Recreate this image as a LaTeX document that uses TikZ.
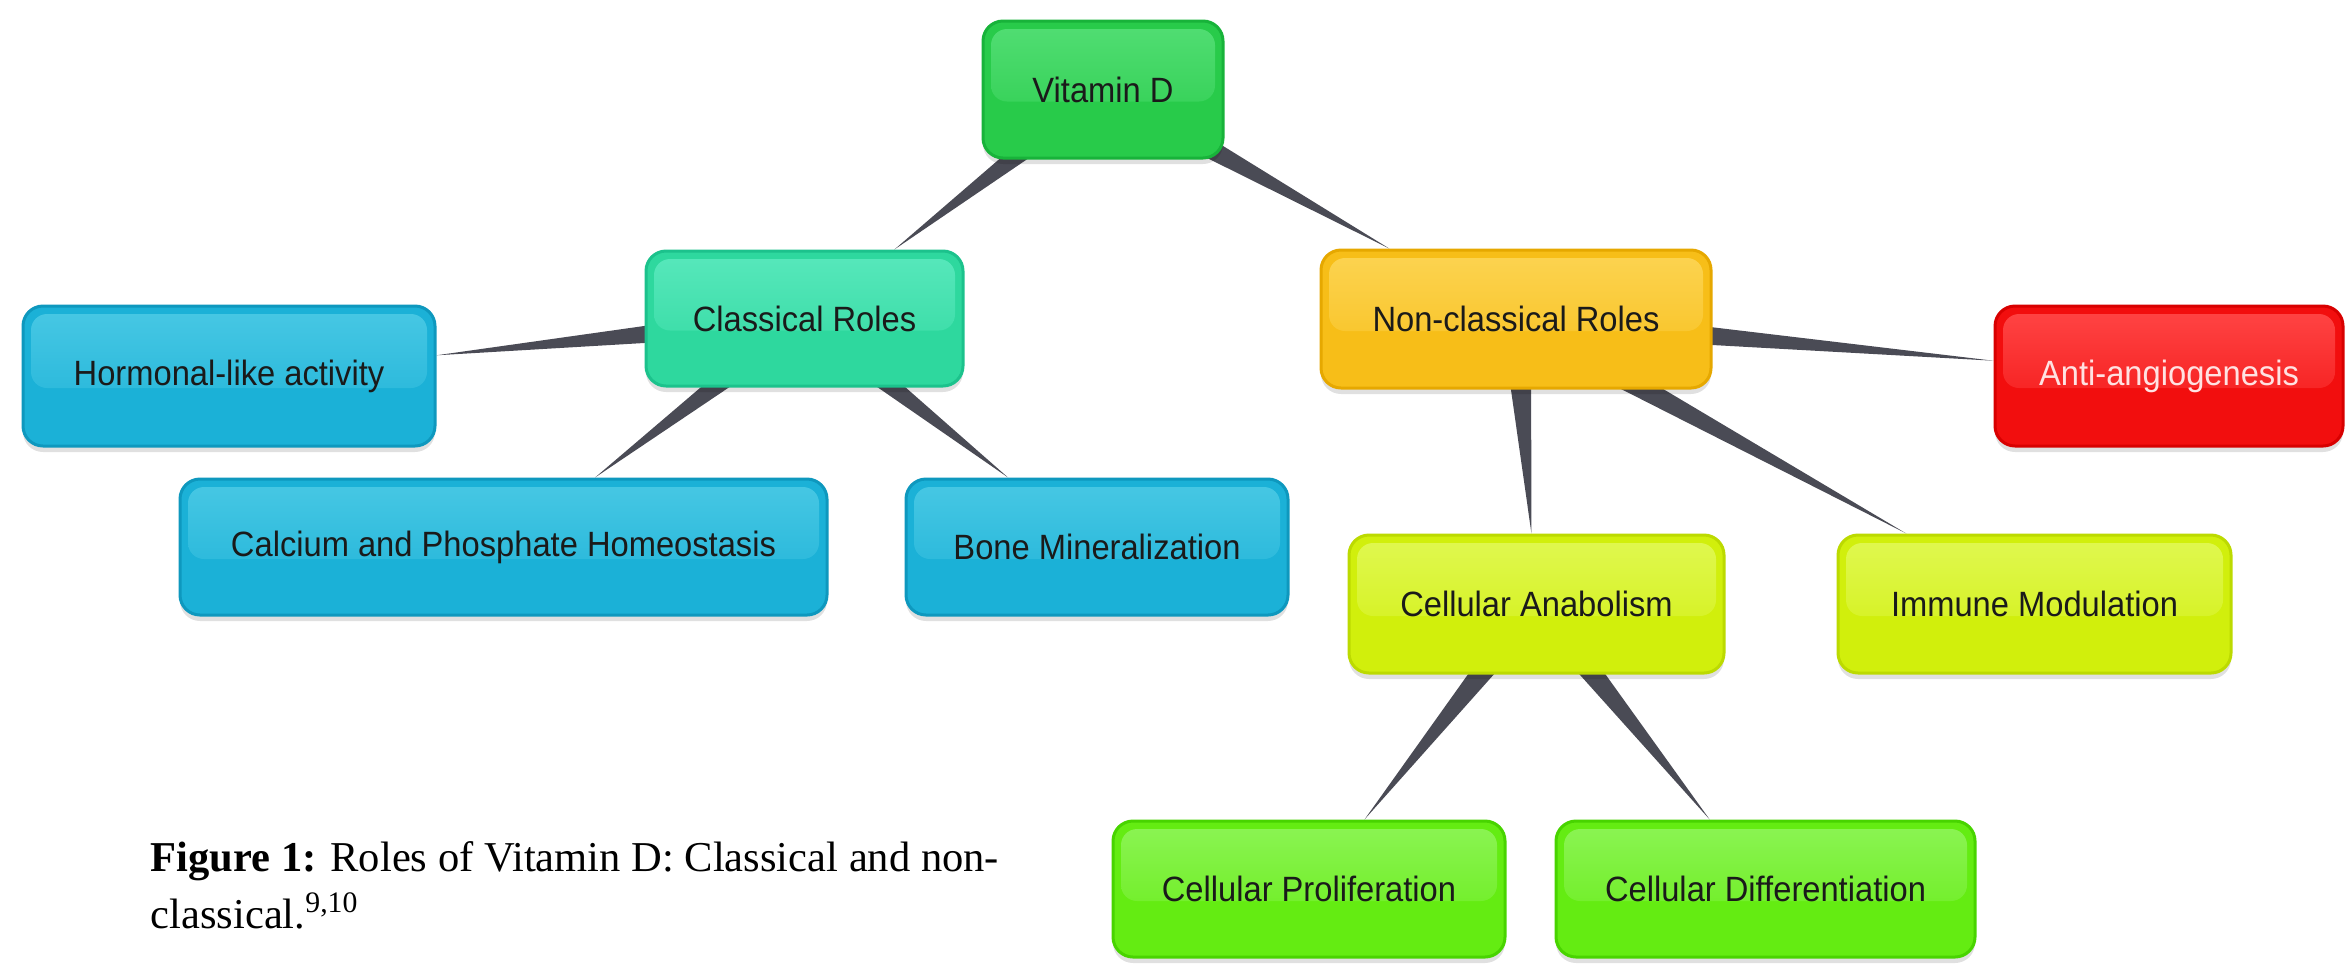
\documentclass[tikz,border=0pt]{standalone}
\usepackage{fontspec}
\setmainfont{Liberation Serif}
\newfontfamily\boxfont[FakeStretch=0.93]{Liberation Sans}
\usetikzlibrary{calc,shadows}
\pgfdeclarelayer{bg}
\pgfsetlayers{bg,main}

\definecolor{conncol}{HTML}{4A4B55}
\definecolor{vitD}{HTML}{18B33A}\definecolor{vitB}{HTML}{28CB4A}\definecolor{vitL}{HTML}{52DE74}
\definecolor{clsD}{HTML}{1CC28C}\definecolor{clsB}{HTML}{2ED89E}\definecolor{clsL}{HTML}{58E8BC}
\definecolor{bluD}{HTML}{0E98BE}\definecolor{bluB}{HTML}{1BB1D7}\definecolor{bluL}{HTML}{48C8E4}
\definecolor{nonD}{HTML}{E6A800}\definecolor{nonB}{HTML}{F7BE18}\definecolor{nonL}{HTML}{FCD452}
\definecolor{antD}{HTML}{D80000}\definecolor{antB}{HTML}{F20E0E}\definecolor{antL}{HTML}{FF4646}
\definecolor{ylwD}{HTML}{BCDA00}\definecolor{ylwB}{HTML}{D1EF0C}\definecolor{ylwL}{HTML}{E0F852}
\definecolor{grnD}{HTML}{48D400}\definecolor{grnB}{HTML}{64EC12}\definecolor{grnL}{HTML}{8CF455}
\definecolor{boxtext}{HTML}{1A1A1A}
\definecolor{anttext}{HTML}{FFE2E2}

\tikzset{
  conn/.style={fill=conncol},
  gbox/.style n args={3}{draw=#1, fill=#2, line width=0.3mm, rounded corners=2mm,
    font=\boxfont\fontsize{10}{12}\selectfont, text=boxtext, inner sep=0pt,
    drop shadow={shadow xshift=0mm, shadow yshift=-0.6mm, opacity=0.12, fill=black},
    path picture={\fill[top color=#3, bottom color=#2, rounded corners=1.6mm]
      ([shift={(0.8mm,-0.8mm)}]path picture bounding box.north west) rectangle
      ([shift={(-0.8mm,-1.2mm)}]path picture bounding box.east);}},
  capfont/.style={font=\fontsize{12.1}{15}\selectfont, inner sep=0pt, anchor=base west},
}

\newcommand\wedgeconn[2]{%
  \path (#1) -- coordinate[pos=1] (tip) (#2);
  \fill[conn] ($(#1.center)!1.5mm!90:(#2.center)$) -- ($(#1.center)!1.5mm!-90:(#2.center)$) -- (tip) -- cycle;
}

\begin{document}
\begin{tikzpicture}[x=0.1mm, y=-0.1mm]
\useasboundingbox (0,0) rectangle (2345,971);

\node[gbox={vitD}{vitB}{vitL}, minimum width=24mm, minimum height=13.7mm] (vit) at (1103,89.5) {Vitamin D};
\node[gbox={clsD}{clsB}{clsL}, minimum width=31.7mm, minimum height=13.5mm] (cls) at (804.5,318.5) {Classical Roles};
\node[gbox={bluD}{bluB}{bluL}, minimum width=41.2mm, minimum height=14mm] (hor) at (229,376) {Hormonal-like activity};
\node[gbox={bluD}{bluB}{bluL}, minimum width=64.7mm, minimum height=13.6mm] (cal) at (503.5,547) {Calcium and Phosphate Homeostasis};
\node[gbox={bluD}{bluB}{bluL}, minimum width=38.2mm, minimum height=13.6mm] (bone) at (1097,547) {Bone Mineralization};
\node[gbox={nonD}{nonB}{nonL}, minimum width=39mm, minimum height=13.8mm] (non) at (1516,319) {Non-classical Roles};
\node[gbox={antD}{antB}{antL}, text=anttext, minimum width=34.8mm, minimum height=14mm] (anti) at (2169,376) {Anti-angiogenesis};
\node[gbox={ylwD}{ylwB}{ylwL}, minimum width=37.5mm, minimum height=13.8mm] (ana) at (1536.5,604) {Cellular Anabolism};
\node[gbox={ylwD}{ylwB}{ylwL}, minimum width=39.3mm, minimum height=13.8mm] (imm) at (2034.5,604) {Immune Modulation};
\node[gbox={grnD}{grnB}{grnL}, minimum width=39.2mm, minimum height=13.6mm] (pro) at (1309,889) {Cellular Proliferation};
\node[gbox={grnD}{grnB}{grnL}, minimum width=41.9mm, minimum height=13.6mm] (dif) at (1765.5,889) {Cellular Differentiation};

\begin{pgfonlayer}{bg}
\fill[white] (0,0) rectangle (2345,971);
\wedgeconn{vit}{cls}
\wedgeconn{vit}{non}
\wedgeconn{cls}{hor}
\wedgeconn{cls}{cal}
\wedgeconn{cls}{bone}
\wedgeconn{non}{anti}
\wedgeconn{non}{ana}
\wedgeconn{non}{imm}
\wedgeconn{ana}{pro}
\wedgeconn{ana}{dif}
\end{pgfonlayer}

\node[capfont] (cap1) at (150,871) {\textbf{Figure 1:} Roles of Vitamin D: Classical and non-};
\node[capfont] (cap2) at (150,928) {classical.\textsuperscript{9,10}};
\end{tikzpicture}
\end{document}
